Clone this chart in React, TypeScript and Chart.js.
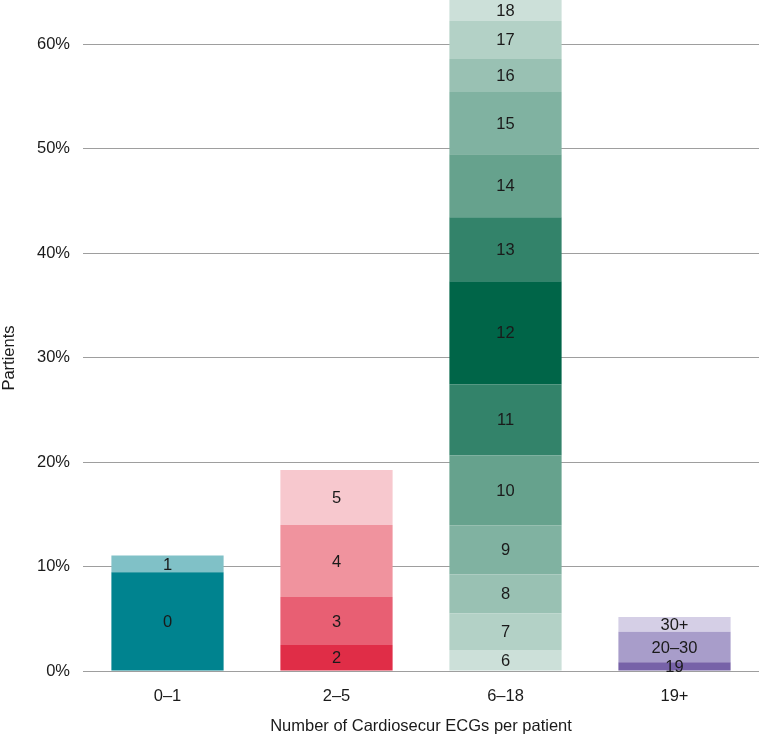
import { useEffect, useRef } from "react"
import { Chart, registerables } from "chart.js"

Chart.register(...registerables)

const categories = ["0–1", "2–5", "6–18", "19+"]

// segments per category (bottom to top), values in % of patients
const segLabels01 = ["0", "1"]
const segValues01 = [9.45, 1.6]
const segColors01 = ["#00838f", "#80c1c7"]

const segLabels25 = ["2", "3", "4", "5"]
const segValues25 = [2.49, 4.6, 6.89, 5.27]
const segColors25 = ["#e02d47", "#e85f73", "#f0939e", "#f7c8ce"]

const segLabels618 = ["6", "7", "8", "9", "10", "11", "12", "13", "14", "15", "16", "17", "18"]
const segValues618 = [2.01, 3.51, 3.73, 4.72, 6.67, 6.83, 9.86, 6.13, 6.03, 5.97, 3.16, 3.64, 2.0]
const segColors618 = [
  "#cce0d9", "#b3d1c6", "#99c1b3", "#80b2a1", "#66a28d", "#33836a", "#006548",
  "#33836a", "#66a28d", "#80b2a1", "#99c1b3", "#b3d1c6", "#cce0d9",
]

const segLabels19 = ["19", "20–30", "30+"]
const segValues19 = [0.83, 2.93, 1.41]
const segColors19 = ["#7762a8", "#a89dca", "#d5cfe6"]

const yTicks = [0, 10, 20, 30, 40, 50, 60]
const yMax = 64.26

const FONT = "'Liberation Sans', Arial, Helvetica, sans-serif"
const TEXT = "#1a1a1a"

function buildDatasets() {
  const groups = [
    [segLabels01, segValues01, segColors01],
    [segLabels25, segValues25, segColors25],
    [segLabels618, segValues618, segColors618],
    [segLabels19, segValues19, segColors19],
  ] as [string[], number[], string[]][]
  const out: any[] = []
  groups.forEach(([labels, values, colors], ci) => {
    labels.forEach((lab, i) => {
      const data = categories.map((_, j) => (j === ci ? values[i] : null))
      out.push({
        label: lab,
        data,
        backgroundColor: colors[i],
        borderWidth: 0,
        stack: "s",
        barPercentage: 0.664,
        categoryPercentage: 1,
      })
    })
  })
  return out
}

const segmentLabels = {
  id: "segmentLabels",
  afterDatasetsDraw(chart: any) {
    const ctx = chart.ctx
    ctx.save()
    ctx.font = `16.5px ${FONT}`
    ctx.fillStyle = TEXT
    ctx.textAlign = "center"
    ctx.textBaseline = "middle"
    chart.data.datasets.forEach((ds: any, di: number) => {
      const meta = chart.getDatasetMeta(di)
      meta.data.forEach((el: any, i: number) => {
        if (ds.data[i] == null) return
        const top = Math.max(el.y, chart.chartArea.top - 4)
        ctx.fillText(ds.label, el.x, (top + el.base) / 2 + 1)
      })
    })
    ctx.restore()
  },
}

const yTitle = {
  id: "yTitle",
  afterDraw(chart: any) {
    const ctx = chart.ctx
    ctx.save()
    ctx.font = `16.5px ${FONT}`
    ctx.fillStyle = TEXT
    ctx.textAlign = "center"
    ctx.textBaseline = "middle"
    ctx.translate(9, 358)
    ctx.rotate(-Math.PI / 2)
    ctx.fillText("Partients", 0, 0)
    ctx.restore()
  },
}

export default function App() {
  const chartRef = useRef<HTMLCanvasElement>(null)
  const chartInstance = useRef<Chart | null>(null)

  useEffect(() => {
    if (chartRef.current) {
      if (chartInstance.current) {
        chartInstance.current.destroy()
      }
      const ctx = chartRef.current.getContext("2d")
      if (ctx) {
        chartInstance.current = new Chart(ctx, {
          type: "bar",
          data: {
            labels: categories,
            datasets: buildDatasets(),
          },
          plugins: [segmentLabels, yTitle],
          options: {
            animation: false,
            responsive: true,
            maintainAspectRatio: false,
            layout: { padding: 0 },
            plugins: {
              legend: { display: false },
              tooltip: { enabled: false },
            },
            scales: {
              x: {
                stacked: true,
                grid: { display: false, drawTicks: false },
                border: { display: false },
                ticks: {
                  color: TEXT,
                  font: { family: FONT, size: 16.5 },
                  padding: 16,
                },
                title: {
                  display: true,
                  text: "Number of Cardiosecur ECGs per patient",
                  color: TEXT,
                  font: { family: FONT, size: 16.5 },
                  padding: { top: 4, bottom: 0 },
                },
                afterFit: (scale: any) => {
                  scale.height = 65
                  scale.paddingLeft = 0
                  scale.paddingRight = 0
                },
              },
              y: {
                stacked: true,
                min: 0,
                max: yMax,
                grid: { color: "#9e9e9e", lineWidth: 1, drawTicks: false },
                border: { display: false },
                ticks: {
                  stepSize: 10,
                  color: TEXT,
                  font: { family: FONT, size: 16.5 },
                  padding: 13,
                  callback: (v: any) => `${v}%`,
                },
                afterBuildTicks: (scale: any) => {
                  scale.ticks = yTicks.map((value) => ({ value }))
                },
                afterFit: (scale: any) => {
                  scale.width = 83
                  scale.paddingTop = 0
                  scale.paddingBottom = 0
                },
              },
            },
          },
        })
      }
    }

    return () => {
      if (chartInstance.current) {
        chartInstance.current.destroy()
      }
    }
  }, [])

  return (
    <div style={{ position: "absolute", left: 0, top: 0, width: 759, height: 736, background: "#fff" }}>
      <canvas ref={chartRef} />
    </div>
  )
}
